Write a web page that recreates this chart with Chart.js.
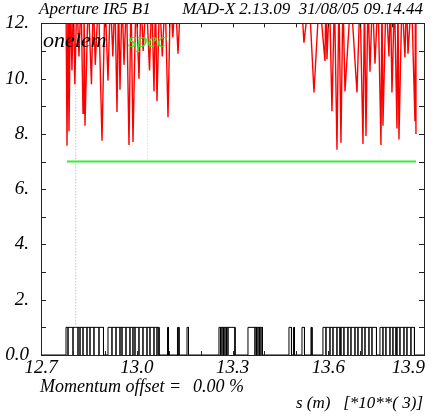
<!DOCTYPE html>
<html><head><meta charset="utf-8">
<script src="https://cdn.jsdelivr.net/npm/chart.js@4.4.1/dist/chart.umd.min.js"></script>
<style>html,body{margin:0;padding:0;background:#fff}#wrap{width:443px;height:418px;position:relative}</style>
</head><body><div id="wrap"><canvas id="c" width="443" height="418"></canvas></div>
<script>
// ---- text ----
const titleLeft = 'Aperture IR5 B1';
const titleRight = 'MAD-X 2.13.09  31/08/05 09.14.44';
const legendNames = ['onelem', 'spec'];
const momentumText = 'Momentum offset =';
const momentumValue = '0.00 %';
const xAxisTitle = 's (m)   [*10**( 3)]';

// ---- axes ----
const xMin = 12.7, xMax = 13.9, xStep = 0.1;
const yMin = 0, yMax = 12, yStep = 1;
const xTickLabels = [12.7, 13.0, 13.3, 13.6, 13.9];
const yTickLabels = {12: '12.', 10: '10.', 8: '8.', 6: '6.', 4: '4.', 2: '2.', 0: '0.0'};

// ---- aperture "onelem" (s [*1e3 m], n1) ; 13 = off scale ----
const aperture = [
 [12.7783,13],[12.7815,7.57],[12.7846,13],[12.7877,8.10],[12.7925,13],[12.7970,10.3],[12.8015,13],[12.8060,9.8],
 [12.8125,13],[12.8190,10.8],[12.8255,13],[12.8316,8.75],[12.8347,13],[12.8378,8.30],[12.8480,13],[12.8580,9.8],
 [12.8640,13],[12.8700,10.5],[12.8800,13],[12.8911,7.75],[12.9005,13],[12.9099,9.93],[12.9175,13],[12.9250,10.8],
 [12.9315,13],[12.9381,8.79],[12.9428,13],[12.9475,9.60],[12.9540,13],[12.9600,10.5],[12.9680,13],[12.9757,7.60],
 [12.9820,13],[12.9882,7.71],[12.9975,13],[13.0070,10.0],[13.0135,13],[13.0200,11.0],[13.0300,13],[13.0400,10.3],
 [13.0470,13],[13.0540,9.54],[13.0587,13],[13.0634,9.18],[13.0715,13],[13.0800,10.8],[13.0890,13],[13.0979,8.60],
 [13.1055,13],[13.1130,11.5],[13.1210,13],[13.1292,10.9],[13.1380,13],
 [13.5150,13],[13.5239,11.3],[13.5400,13],[13.5553,9.5],[13.5720,13],[13.5897,10.64],[13.5928,13],[13.5960,10.7],
 [13.6040,13],[13.6116,8.82],[13.6195,13],[13.6273,7.43],[13.6335,13],[13.6398,7.68],[13.6460,13],[13.6524,9.54],
 [13.6710,13],[13.6900,9.5],[13.6995,13],[13.7088,7.64],[13.7135,13],[13.7182,7.93],[13.7245,13],[13.7307,10.25],
 [13.7385,13],[13.7464,10.54],[13.7560,13],[13.7652,7.6],[13.7683,13],[13.7714,8.3],[13.7810,13],[13.7902,10.8],
 [13.7950,13],[13.7996,9.5],[13.8075,13],[13.8153,8.2],[13.8184,13],[13.8215,7.8],[13.8310,13],[13.8403,10.77],
 [13.8450,13],[13.8498,10.9],[13.8610,13],[13.8717,8.46],[13.8732,13],[13.8748,8.0]
];

// ---- spec ----
const specLevel = 7.0;
const specRange = [12.7815, 13.8748];

// ---- dotted markers ----
const markerOnelem = {s: 12.8087, y: [1, 11.0]};
const markerSpec = {s: 13.0330, y: [7, 10.9]};

// ---- elements (start, end) ----
const elements = [
 [12.7783,12.7846],[12.7846,12.8003],[12.8003,12.8159],[12.8159,12.8222],[12.8222,12.8316],[12.8316,12.8441],[12.8441,12.8535],[12.8535,12.8660],[12.8660,12.8817],[12.8817,12.8958],
 [12.9099,12.9224],[12.9224,12.9350],[12.9350,12.9475],[12.9475,12.9538],[12.9538,12.9663],[12.9663,12.9788],[12.9788,12.9882],[12.9882,12.9945],[12.9945,13.0070],[13.0070,13.0195],[13.0195,13.0321],[13.0321,13.0415],[13.0415,13.0540],[13.0540,13.0634],[13.0634,13.0697],
 [13.0963,13.0994],[13.1276,13.1323],[13.1574,13.1621],
 [13.2576,13.2623],[13.2623,13.2670],[13.2670,13.2717],[13.2717,13.2764],[13.2764,13.2811],[13.2811,13.2858],[13.2858,13.3078],
 [13.3485,13.3704],[13.3704,13.3751],[13.3751,13.3798],[13.3798,13.3845],[13.3845,13.3892],[13.3892,13.3939],
 [13.4769,13.4848],[13.4910,13.4942],[13.5177,13.5255],[13.5459,13.5490],
 [13.5834,13.5929],[13.5929,13.6054],[13.6054,13.6148],[13.6148,13.6273],[13.6273,13.6367],[13.6367,13.6398],[13.6398,13.6492],[13.6492,13.6617],[13.6617,13.6712],[13.6712,13.6837],[13.6837,13.6931],[13.6931,13.7057],[13.7057,13.7151],[13.7151,13.7276],[13.7276,13.7370],[13.7370,13.7511],
 [13.7620,13.7714],[13.7714,13.7808],[13.7808,13.7934],[13.7934,13.8027],[13.8027,13.8121],[13.8121,13.8153],[13.8153,13.8247],[13.8247,13.8372],[13.8372,13.8466],[13.8466,13.8591],[13.8591,13.8701]
];

// ---- build datasets ----
const apPts = aperture.map(p => ({x: p[0], y: p[1]}));
const wavePts = [{x: xMin, y: 0}];
elements.forEach(e => {
  wavePts.push({x: e[0], y: 0}, {x: e[0], y: 1}, {x: e[1], y: 1}, {x: e[1], y: 0});
});
wavePts.push({x: xMax, y: 0});

const FONT = '"Liberation Serif", "Times New Roman", serif';

const framePlugin = {
  id: 'frame',
  afterDraw(chart) {
    const ctx = chart.ctx, a = chart.chartArea;
    const xs = chart.scales.x, ys = chart.scales.y;
    ctx.save();
    ctx.strokeStyle = '#222';
    ctx.lineWidth = 1;
    ctx.strokeRect(Math.round(a.left) + 0.5, Math.round(a.top) + 0.5, Math.round(a.right - a.left), Math.round(a.bottom - a.top));
    ctx.beginPath();
    xs.ticks.forEach(t => {
      const px = Math.round(xs.getPixelForValue(t.value)) + 0.5;
      ctx.moveTo(px, a.bottom); ctx.lineTo(px, a.bottom - 4);
      ctx.moveTo(px, a.top); ctx.lineTo(px, a.top + 4);
    });
    ys.ticks.forEach(t => {
      const py = Math.round(ys.getPixelForValue(t.value)) + 0.5;
      ctx.moveTo(a.left, py); ctx.lineTo(a.left + 5, py);
      ctx.moveTo(a.right, py); ctx.lineTo(a.right - 5, py);
    });
    ctx.stroke();
    // x tick labels
    ctx.fillStyle = '#000';
    ctx.font = 'italic 19px ' + FONT;
    ctx.textBaseline = 'alphabetic';
    xTickLabels.forEach(v => {
      const px = xs.getPixelForValue(v);
      const txt = v.toFixed(1);
      const w = ctx.measureText(txt).width;
      if (px + w / 2 > a.right + 2) { ctx.textAlign = 'right'; ctx.fillText(txt, px + 1, 373); }
      else { ctx.textAlign = 'center'; ctx.fillText(txt, px, 373); }
    });
    // titles
    ctx.font = 'italic 17px ' + FONT;
    ctx.textAlign = 'left';
    ctx.fillText(titleLeft, 39, 14);
    ctx.textAlign = 'right';
    ctx.fillText(titleRight, 423, 14);
    // legend names
    ctx.font = 'italic 22px ' + FONT;
    ctx.textAlign = 'left';
    ctx.fillStyle = '#000';
    ctx.fillText(legendNames[0], 43, 47);
    ctx.fillStyle = '#22ee22';
    ctx.fillText(legendNames[1], 128, 47);
    // bottom texts
    ctx.fillStyle = '#000';
    ctx.font = 'italic 18px ' + FONT;
    ctx.textAlign = 'left';
    ctx.fillText(momentumText, 40, 392);
    ctx.fillText(momentumValue, 193, 392);
    ctx.font = 'italic 17px ' + FONT;
    ctx.textAlign = 'right';
    ctx.fillText(xAxisTitle, 423, 408);
    ctx.restore();
  }
};

new Chart(document.getElementById('c'), {
  type: 'scatter',
  data: {
    datasets: [
      {label: 'onelem', data: apPts, showLine: true, borderColor: '#ff0000', borderWidth: 1.4, pointRadius: 0, tension: 0},
      {label: 'spec', data: [{x: specRange[0], y: specLevel}, {x: specRange[1], y: specLevel}], showLine: true, borderColor: '#33ee33', borderWidth: 2, pointRadius: 0},
      {label: 'mk1', data: [{x: markerOnelem.s, y: markerOnelem.y[0]}, {x: markerOnelem.s, y: markerOnelem.y[1]}], showLine: true, borderColor: '#aaaaaa', borderWidth: 1, borderDash: [1, 2], pointRadius: 0},
      {label: 'mk2', data: [{x: markerSpec.s, y: markerSpec.y[0]}, {x: markerSpec.s, y: markerSpec.y[1]}], showLine: true, borderColor: '#99ee99', borderWidth: 1, borderDash: [1, 2], pointRadius: 0},
      {label: 'elements', data: wavePts, showLine: true, borderColor: '#000', borderWidth: 1, pointRadius: 0, tension: 0}
    ]
  },
  options: {
    responsive: false,
    animation: false,
    devicePixelRatio: 1,
    layout: {padding: {top: 19, right: 19, left: 0, bottom: 0}},
    plugins: {legend: {display: false}, tooltip: {enabled: false}},
    scales: {
      x: {
        type: 'linear', min: xMin, max: xMax,
        grid: {display: false, drawTicks: false},
        border: {display: false},
        ticks: {stepSize: xStep, autoSkip: false, display: false, maxRotation: 0},
        afterFit: s => { s.height = 63; }
      },
      y: {
        type: 'linear', min: yMin, max: yMax,
        grid: {display: false, drawTicks: false},
        border: {display: false},
        ticks: {
          stepSize: yStep, autoSkip: false, padding: 12, color: '#000',
          font: {family: FONT, size: 19, style: 'italic'},
          callback: v => (yTickLabels[Math.round(v)] !== undefined && Math.abs(v - Math.round(v)) < 1e-6) ? yTickLabels[Math.round(v)] : ''
        },
        afterFit: s => { s.width = 41; }
      }
    }
  },
  plugins: [framePlugin]
});
</script>
</body></html>
